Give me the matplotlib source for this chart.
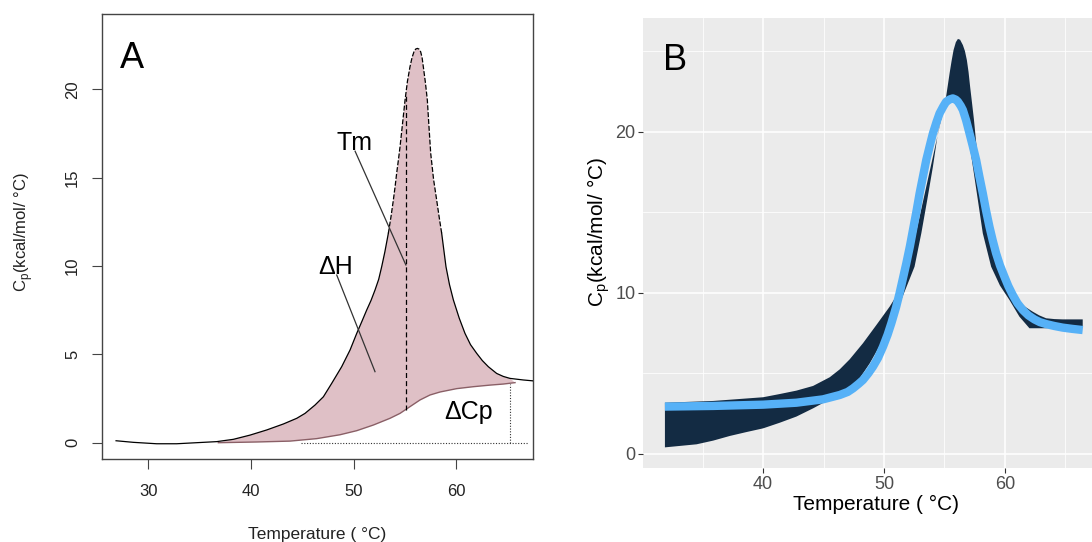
import numpy as np
import matplotlib
matplotlib.use("Agg")
import matplotlib.pyplot as plt

plt.rcParams["font.family"] = ["Liberation Sans", "DejaVu Sans"]
plt.rcParams["mathtext.fontset"] = "custom"
plt.rcParams["mathtext.rm"] = "Liberation Sans"

# ---------------- Panel A: DSC thermogram with baseline ----------------
temp_a = [26.85, 28.54, 30.81, 32.76, 34.71, 36.66, 38.28, 39.91, 41.53, 43.16,
          44.46, 45.27, 46.24, 47.06, 47.87, 48.84, 49.66, 50.31, 50.80, 51.28,
          51.70, 52.09, 52.45, 52.74, 53.05, 53.39, 53.65, 53.88, 54.05, 54.20,
          54.37, 54.53, 54.78, 55.02, 55.25, 55.50, 55.70, 55.89, 56.05, 56.22,
          56.38, 56.54, 56.68, 56.80, 57.00, 57.19, 57.35, 57.52, 57.80, 58.10,
          58.35, 58.59, 59.01, 59.35, 59.73, 60.30, 60.86, 61.40, 62.00, 62.55,
          63.14, 63.95, 64.60, 65.25, 66.55, 67.69]
cp_a = [0.11, 0.02, -0.06, -0.06, 0.00, 0.06, 0.19, 0.43, 0.72, 1.06,
        1.38, 1.66, 2.13, 2.60, 3.36, 4.30, 5.25, 6.19, 6.85, 7.51,
        8.05, 8.64, 9.25, 9.96, 10.80, 11.85, 12.80, 13.74, 14.50, 15.25,
        16.00, 16.75, 18.10, 19.40, 20.45, 21.28, 21.80, 22.13, 22.28, 22.32,
        22.28, 22.13, 21.80, 21.28, 20.40, 19.40, 17.90, 16.38, 14.90, 13.74,
        12.75, 11.85, 9.96, 8.95, 8.08, 7.05, 6.19, 5.55, 5.06, 4.65,
        4.30, 3.92, 3.75, 3.64, 3.55, 3.49]

base_temp = [36.82, 40.56, 43.81, 46.41, 48.68, 50.31, 51.93, 53.55, 54.53,
             55.50, 56.48, 57.45, 58.43, 60.05, 61.68, 63.30, 64.60, 65.74]
base_cp = [0.00, 0.04, 0.09, 0.23, 0.45, 0.68, 1.00, 1.38, 1.66,
           2.04, 2.42, 2.70, 2.87, 3.06, 3.17, 3.26, 3.32, 3.40]

tm = 55.1
tm_base_cp = 1.85
tm_peak_cp = 19.6
dcp_temp = 65.25
dcp_value = 3.35

xticks_a = [30, 40, 50, 60]
yticks_a = [0, 5, 10, 15, 20]

# ---------------- Panel B: model band and fitted curve ----------------
band_up_temp = [31.87, 35.87, 40.00, 41.38, 42.75, 44.13, 45.51, 46.34, 47.16,
                48.26, 49.37, 50.47, 51.29, 51.85, 52.40, 52.95, 53.50, 54.05,
                54.60, 54.85, 55.10, 55.27, 55.43, 55.60, 55.76, 55.95, 56.12,
                56.30, 56.53, 56.70, 56.86, 57.00, 57.13, 57.30, 57.45, 57.69,
                57.85, 58.04, 58.25, 58.46, 58.75, 59.01, 59.30, 59.56, 59.95,
                60.39, 60.80, 61.21, 61.75, 62.31, 62.85, 63.42, 64.10, 64.79,
                66.45]
band_up_cp = [3.18, 3.29, 3.52, 3.72, 3.93, 4.22, 4.76, 5.25, 5.87,
              6.87, 8.00, 9.14, 10.13, 11.21, 12.86, 14.72, 16.58, 18.44,
              20.31, 21.10, 21.96, 22.80, 23.61, 24.40, 25.06, 25.55, 25.75,
              25.70, 25.37, 25.00, 24.44, 23.70, 22.79, 21.70, 20.72, 18.86,
              17.90, 17.00, 16.00, 15.14, 14.10, 13.28, 12.50, 11.83, 11.05,
              10.38, 9.85, 9.45, 9.10, 8.83, 8.60, 8.42, 8.37, 8.35,
              8.35]

band_lo_temp = [31.87, 33.11, 34.49, 35.87, 37.25, 38.62, 40.00, 41.38, 42.75,
                44.13, 45.51, 46.61, 47.71, 48.82, 49.92, 50.74, 51.43, 52.53,
                53.09, 53.58, 54.05, 54.46, 54.88, 55.29, 55.65, 56.12, 56.53,
                56.94, 57.36, 57.77, 58.18, 58.87, 59.60, 60.39, 61.21, 62.04,
                63.42, 64.79, 66.45]
band_lo_cp = [0.41, 0.50, 0.60, 0.83, 1.12, 1.36, 1.59, 1.94, 2.32,
              2.83, 3.39, 3.87, 4.38, 5.62, 7.07, 8.52, 9.55, 11.62,
              13.69, 15.76, 17.82, 19.89, 21.34, 21.86, 22.00, 21.80, 21.13,
              19.89, 17.82, 15.76, 13.69, 11.62, 10.45, 9.55, 8.52, 7.80,
              7.80, 7.86, 7.94]

fit_temp = [31.87, 35.87, 40.00, 42.75, 44.96, 46.34, 47.00, 47.44, 47.90,
            48.26, 48.70, 49.09, 49.50, 49.92, 50.30, 50.61, 51.00, 51.29,
            51.60, 51.85, 52.15, 52.40, 52.70, 52.95, 53.25, 53.50, 53.80,
            54.05, 54.35, 54.60, 54.90, 55.15, 55.45, 55.70, 55.95, 56.12,
            56.35, 56.53, 56.80, 57.08, 57.35, 57.63, 57.90, 58.18, 58.45,
            58.73, 59.00, 59.28, 59.60, 59.97, 60.30, 60.66, 61.05, 61.49,
            61.95, 62.45, 62.90, 63.42, 64.10, 64.79, 65.60, 66.45]
fit_cp = [2.94, 2.98, 3.06, 3.18, 3.39, 3.66, 3.85, 4.07, 4.35,
          4.59, 5.00, 5.42, 5.95, 6.66, 7.40, 8.11, 9.10, 9.97,
          11.00, 11.83, 12.90, 13.90, 15.10, 16.17, 17.30, 18.24, 19.15,
          19.89, 20.60, 21.13, 21.55, 21.86, 22.00, 22.06, 21.98, 21.86,
          21.60, 21.34, 20.70, 19.89, 19.10, 18.24, 17.20, 16.17, 15.10,
          14.10, 13.25, 12.45, 11.70, 11.00, 10.40, 9.86, 9.35, 8.93,
          8.60, 8.35, 8.18, 8.06, 7.94, 7.84, 7.76, 7.69]

xticks_b = [40, 50, 60]
yticks_b = [0, 10, 20]

W, H = 1092, 542
fig = plt.figure(figsize=(W / 100, H / 100), dpi=100)


def px_axes(left, top, right, bottom):
    return fig.add_axes([left / W, (H - bottom) / H, (right - left) / W, (bottom - top) / H])


# ---------------- draw panel A ----------------
axA = px_axes(101.7, 14.3, 533.3, 459.3)
ta = np.array(temp_a)
ca = np.array(cp_a)
bt = np.array(base_temp)
bc = np.array(base_cp)

inside = (ta >= bt[0]) & (ta <= bt[-1])
poly_x = np.concatenate([ta[inside], bt[::-1]])
poly_y = np.concatenate([ca[inside], bc[::-1]])
axA.fill(poly_x, poly_y, color="#DFC0C6", lw=0, zorder=1)
axA.plot(bt, bc, color="#8A5F66", lw=1.0, zorder=2)

lo_part = ta <= 53.39
hi_part = ta >= 58.59
mid_part = (ta >= 53.39) & (ta <= 58.59)
axA.plot(ta[lo_part], ca[lo_part], color="black", lw=0.9, zorder=3)
axA.plot(ta[hi_part], ca[hi_part], color="black", lw=0.9, zorder=3)
axA.plot(ta[mid_part], ca[mid_part], color="black", lw=0.9, ls=(0, (4, 1.5)), zorder=3)

axA.plot([tm, tm], [tm_base_cp, tm_peak_cp], color="black", lw=0.9, ls=(0, (4, 2.5)), zorder=3)
axA.plot([44.9, 67.0], [0, 0], color="#333333", lw=0.8, ls=(0, (1, 1.5)), zorder=3)
axA.plot([dcp_temp, dcp_temp], [0, dcp_value], color="#333333", lw=0.8, ls=(0, (1, 1.5)), zorder=3)

axA.plot([50.15, tm], [16.5, 10.06], color="#333333", lw=0.9, zorder=4)
axA.plot([48.36, 52.09], [9.49, 4.02], color="#333333", lw=0.9, zorder=4)
axA.text(50.08, 16.98, "Tm", fontsize=18, ha="center", va="center", zorder=5)
axA.text(48.26, 9.94, "ΔH", fontsize=18, ha="center", va="center", zorder=5)
axA.text(61.19, 1.72, "ΔCp", fontsize=18, ha="center", va="center", zorder=5)
axA.text(28.38, 21.77, "A", fontsize=26, ha="center", va="center", zorder=5)

axA.set_xlim(25.45, 67.52)
axA.set_ylim(-0.94, 24.25)
axA.set_xticks(xticks_a)
axA.set_yticks(yticks_a)
axA.tick_params(axis="both", direction="out", length=7.5, width=0.8, color="#444444",
                labelsize=12, labelcolor="#222222")
axA.tick_params(axis="x", pad=10)
axA.tick_params(axis="y", pad=8, labelrotation=90)
for lbl in axA.get_yticklabels():
    lbl.set_va("center")
for sp in axA.spines.values():
    sp.set_color("#444444")
    sp.set_linewidth(1.0)
axA.set_xlabel("Temperature ( °C)", fontsize=12.5, color="#222222")
axA.xaxis.label.set_va("center")
axA.xaxis.set_label_coords(0.5, -0.169)
axA.set_ylabel(r"C$_\mathregular{p}$(kcal/mol/ °C)", fontsize=12, color="#222222")
axA.yaxis.label.set_va("center")
axA.yaxis.set_label_coords(-0.18, 0.51)

# ---------------- draw panel B ----------------
axB = px_axes(643.3, 18.3, 1108.7, 468.0)
axB.set_facecolor("#EBEBEB")
band_x = np.concatenate([band_up_temp, band_lo_temp[::-1]])
band_y = np.concatenate([band_up_cp, band_lo_cp[::-1]])
axB.fill(band_x, band_y, color="#132B43", lw=0, zorder=2)
axB.plot(fit_temp, fit_cp, color="#56B1F7", lw=6, solid_capstyle="butt",
         solid_joinstyle="round", zorder=3)
axB.text(32.67, 24.42, "B", fontsize=26, ha="center", va="center", zorder=5)

axB.set_xlim(30.08, 68.6)
axB.set_ylim(-0.87, 27.03)
axB.set_xticks(xticks_b)
axB.set_yticks(yticks_b)
axB.set_xticks([35, 45, 55, 65], minor=True)
axB.set_yticks([5, 15, 25], minor=True)
axB.grid(which="major", color="white", lw=1.1, zorder=0)
axB.grid(which="minor", color="white", lw=0.55, zorder=0)
axB.set_axisbelow(True)
for sp in axB.spines.values():
    sp.set_visible(False)
axB.tick_params(axis="both", which="major", direction="out", length=3.6, width=0.8,
                color="#333333", labelsize=13, labelcolor="#4D4D4D", pad=2)
axB.tick_params(axis="both", which="minor", length=0)
axB.set_xlabel("Temperature ( °C)", fontsize=15, color="black")
axB.xaxis.label.set_va("center")
axB.xaxis.set_label_coords(0.5, -0.082)
axB.set_ylabel(r"C$_\mathregular{p}$(kcal/mol/ °C)", fontsize=15, color="black")
axB.yaxis.label.set_va("center")
axB.yaxis.set_label_coords(-0.097, 0.524)

fig.savefig("out.png", dpi=100)
